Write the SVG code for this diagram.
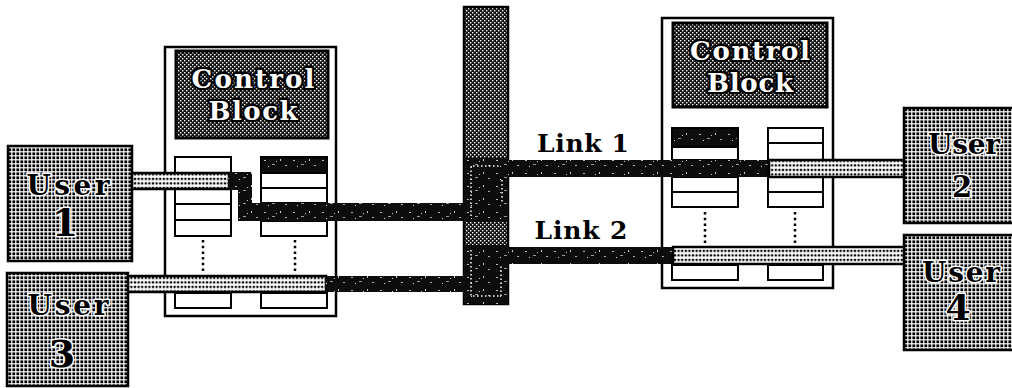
<svg xmlns="http://www.w3.org/2000/svg" width="1012" height="388" viewBox="0 0 1012 388">
<defs>
<pattern id="userDots" width="4" height="4" patternUnits="userSpaceOnUse">
<rect width="4" height="4" fill="#fff"/>
<rect x="0.4" y="0.4" width="2.8" height="2.8" fill="#000"/>
</pattern>
<pattern id="checker" width="4" height="4" patternUnits="userSpaceOnUse">
<rect width="4" height="4" fill="#111"/>
<rect x="0" y="0" width="1.4" height="1.4" fill="#fff"/>
<rect x="2" y="2" width="1.4" height="1.4" fill="#fff"/>
</pattern>
<pattern id="bandDots" width="3.6" height="4.5" patternUnits="userSpaceOnUse" y="1.5">
<rect width="3.6" height="4.5" fill="#fff"/>
<rect x="0.7" y="0.8" width="2.2" height="2.2" fill="#000"/>
</pattern>
<pattern id="speckle" width="29" height="13" patternUnits="userSpaceOnUse">
<rect width="29" height="13" fill="#0d0d0d"/>
<rect x="3" y="4" width="2" height="1" fill="#bbb"/>
<rect x="11" y="8" width="3" height="1" fill="#999"/>
<rect x="19" y="3" width="1" height="2" fill="#ccc"/>
<rect x="24" y="9" width="2" height="1" fill="#aaa"/>
<rect x="7" y="10" width="1" height="1" fill="#ddd"/>
<rect x="15" y="5" width="1" height="1" fill="#ccc"/>
</pattern>
</defs>
<style>
.blk{fill:#fff;stroke:#000;stroke-width:2.5}
.ctl{fill:url(#checker);stroke:#000;stroke-width:3}
.ctlText{font-family:"DejaVu Serif","Liberation Serif",serif;font-weight:bold;font-size:26px;fill:#fff;stroke:#000;stroke-width:4.5;paint-order:stroke;stroke-linejoin:round;text-anchor:middle}
.cell{fill:#fff;stroke:#000;stroke-width:2}
.cellDark{fill:url(#speckle);stroke:#000;stroke-width:2}
.dotv{stroke:#000;stroke-width:2.5;stroke-dasharray:2.5 3.2;fill:none}
.user{fill:url(#userDots);stroke:#000;stroke-width:2.5}
.userText{font-family:"DejaVu Serif","Liberation Serif",serif;font-weight:bold;font-size:28px;fill:#000;stroke:#fff;stroke-width:3;paint-order:stroke;stroke-linejoin:round;text-anchor:middle}
.num{font-size:38px}
.lightBand{fill:url(#bandDots);stroke:#000;stroke-width:2.5}
.darkBand{fill:url(#speckle);stroke:none}
.bus{fill:url(#checker);stroke:#000;stroke-width:2.5}
.linkLabel{font-family:"DejaVu Serif","Liberation Serif",serif;font-weight:bold;font-size:25px;fill:#000;text-anchor:middle}
.busDot{stroke:#fff;stroke-width:1.5;stroke-dasharray:1.5 2.5;fill:none}
</style>

<g id="left-block">
<rect class="blk" x="165" y="47" width="171" height="269"/>
<rect class="ctl" x="176" y="51" width="152" height="87"/>
<text class="ctlText" x="253" y="88" textLength="123" lengthAdjust="spacing">Control</text>
<text class="ctlText" x="253" y="120" textLength="89" lengthAdjust="spacing">Block</text>
<rect class="cell" x="175" y="157" width="56" height="16"/>
<rect class="cell" x="175" y="173" width="56" height="16"/>
<rect class="cell" x="175" y="189" width="56" height="15"/>
<rect class="cell" x="175" y="204" width="56" height="16"/>
<rect class="cell" x="175" y="220" width="56" height="16"/>
<rect class="cellDark" x="261" y="157" width="66" height="16"/>
<rect class="cell" x="261" y="173" width="66" height="15"/>
<rect class="cell" x="261" y="188" width="66" height="15"/>
<rect class="cell" x="261" y="203" width="66" height="18"/>
<rect class="cell" x="261" y="221" width="66" height="15"/>
<line class="dotv" x1="203" y1="240" x2="203" y2="273"/>
<line class="dotv" x1="295" y1="240" x2="295" y2="273"/>
<rect class="cell" x="175" y="293" width="56" height="15"/>
<rect class="cell" x="261" y="293" width="66" height="15"/>
</g>

<g id="right-block">
<rect class="blk" x="662" y="18" width="171" height="270"/>
<rect class="ctl" x="673" y="23" width="154" height="84"/>
<text class="ctlText" x="750" y="60" textLength="120" lengthAdjust="spacing">Control</text>
<text class="ctlText" x="750" y="92" textLength="86" lengthAdjust="spacing">Block</text>
<rect class="cellDark" x="672" y="128" width="66" height="19"/>
<rect class="cell" x="672" y="147" width="66" height="13"/>
<rect class="cell" x="672" y="160" width="66" height="17"/>
<rect class="cell" x="672" y="177" width="66" height="15"/>
<rect class="cell" x="672" y="192" width="66" height="15"/>
<rect class="cell" x="768" y="128" width="55" height="15"/>
<rect class="cell" x="768" y="143" width="55" height="17"/>
<rect class="cell" x="768" y="160" width="55" height="17"/>
<rect class="cell" x="768" y="177" width="55" height="15"/>
<rect class="cell" x="768" y="192" width="55" height="15"/>
<line class="dotv" x1="705" y1="212" x2="705" y2="245"/>
<line class="dotv" x1="795" y1="212" x2="795" y2="245"/>
<rect class="cell" x="672" y="265" width="66" height="15"/>
<rect class="cell" x="768" y="265" width="55" height="15"/>
</g>

<g id="bus">
<rect class="bus" x="464" y="7" width="44" height="297"/>
</g>

<g id="connectors">
<rect class="lightBand" x="131" y="173" width="98" height="16"/>
<polygon class="darkBand" points="228,172 252,172 252,203 464,203 464,221 238,221 238,190 228,190"/>
<rect class="darkBand" x="464" y="158" width="44" height="64"/>
<path class="busDot" d="M471,216 V166 H500 M502,180 V203"/>
<rect class="darkBand" x="507" y="160" width="262" height="17"/>
<rect class="lightBand" x="769" y="160" width="136" height="17"/>
<rect class="lightBand" x="127" y="276" width="199" height="16"/>
<rect class="darkBand" x="325" y="276" width="140" height="16"/>
<rect class="darkBand" x="464" y="245" width="44" height="59"/>
<path class="busDot" d="M471,250 V296 H501 V265"/>
<rect class="darkBand" x="507" y="247" width="166" height="17"/>
<rect class="lightBand" x="673" y="247" width="232" height="17"/>
</g>

<g id="link-labels">
<text class="linkLabel" x="583" y="152" textLength="92" lengthAdjust="spacing">Link 1</text>
<text class="linkLabel" x="581" y="239" textLength="93" lengthAdjust="spacing">Link 2</text>
</g>

<g id="user1">
<rect class="user" x="8" y="146" width="124" height="115"/>
<text class="userText" x="68" y="195" textLength="83" lengthAdjust="spacing">User</text>
<text class="userText num" x="65" y="236">1</text>
</g>
<g id="user3">
<rect class="user" x="7" y="273" width="121" height="113"/>
<text class="userText" x="68" y="315" textLength="81" lengthAdjust="spacing">User</text>
<text class="userText num" x="62" y="367">3</text>
</g>
<g id="user2">
<rect class="user" x="904" y="108" width="112" height="115"/>
<text class="userText" x="964" y="154" textLength="72" lengthAdjust="spacing">User</text>
<text class="userText num" x="962" y="197" style="font-size:29px">2</text>
</g>
<g id="user4">
<rect class="user" x="904" y="235" width="112" height="115"/>
<text class="userText" x="961" y="282" textLength="78" lengthAdjust="spacing">User</text>
<text class="userText num" x="958" y="320" style="font-size:36px">4</text>
</g>
</svg>
